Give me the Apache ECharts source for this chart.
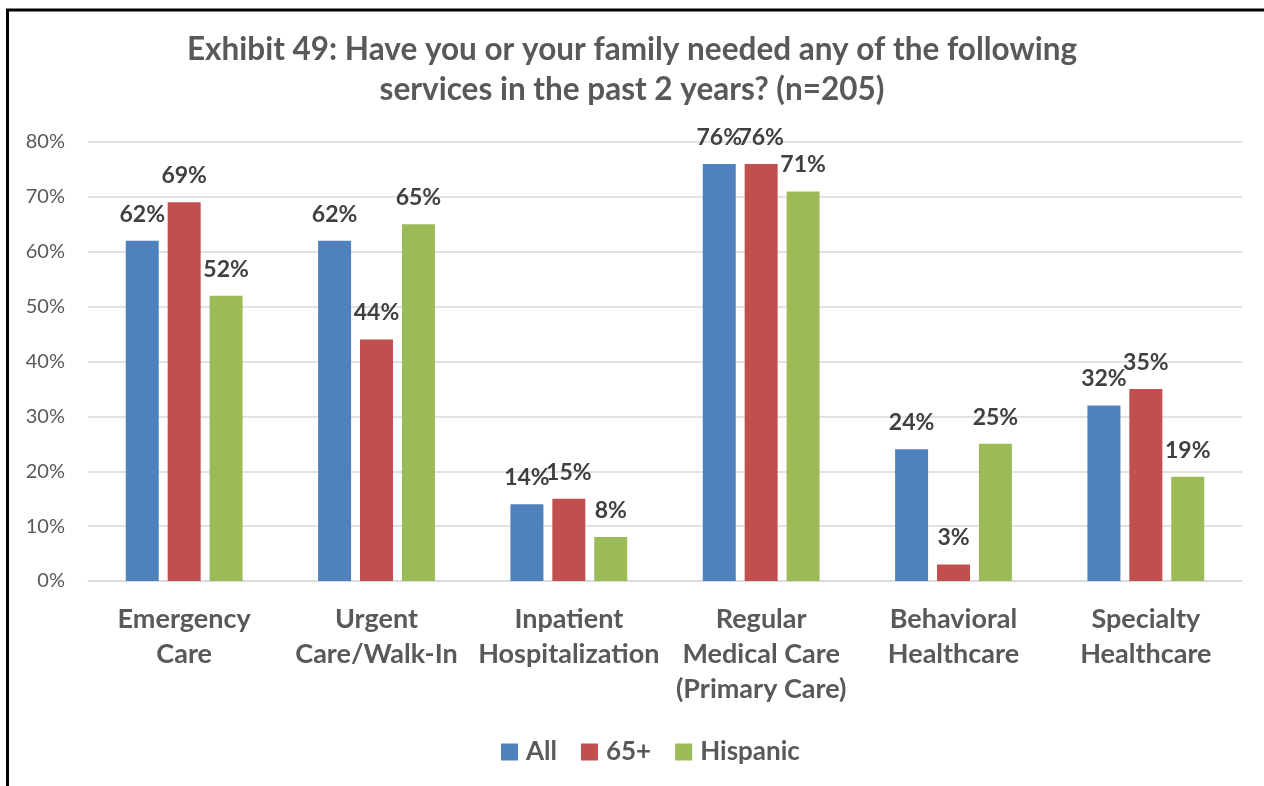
<!DOCTYPE html>
<html><head><meta charset="utf-8">
<script src="https://cdn.jsdelivr.net/npm/echarts@6/dist/echarts.min.js"></script>
<style>html,body{margin:0;padding:0;background:#fff;}#c{width:1264px;height:786px;}</style>
</head><body><div id="c"></div>
<script>
const categories = ['Emergency\nCare','Urgent\nCare/Walk-In','Inpatient\nHospitalization','Regular\nMedical Care\n(Primary Care)','Behavioral\nHealthcare','Specialty\nHealthcare'];
const seriesNames = ['All','65+','Hispanic'];
const allValues = [62,62,14,76,24,32];
const seniorValues = [69,44,15,76,3,35];
const hispanicValues = [52,65,8,71,25,19];
const colors = ['#4F81BD','#C0504D','#9BBB59'];
const yTicks = [0,10,20,30,40,50,60,70,80];

const font = 'Lato, "Open Sans", sans-serif';
const chart = echarts.init(document.getElementById('c'));
const mk = (name, data, color) => ({
  name, type:'bar', data, barWidth:33, barGap:'27%',
  itemStyle:{color},
  label:{show:true, position:'top', formatter:'{c}%', fontFamily:font, fontWeight:'bold', fontSize:23, color:'#404040', distance:15}
});
chart.setOption({
  animation:false,
  title:{text:'Exhibit 49: Have you or your family needed any of the following\nservices in the past 2 years? (n=205)',
    left:'center', top:25,
    textStyle:{fontFamily:font, fontWeight:'bold', fontSize:31.5, color:'#595959', lineHeight:40}},
  legend:{bottom:16, left:496, itemWidth:17, itemHeight:17, itemGap:24, icon:'rect',
    textStyle:{fontFamily:font, fontWeight:'bold', fontSize:26, color:'#595959', padding:[0,0,0,3]}, data:seriesNames},
  grid:{left:88, right:22, top:142, bottom:205, containLabel:false},
  xAxis:{type:'category', data:categories,
    axisLine:{show:true, lineStyle:{color:'#D9D9D9', width:1.5}}, axisTick:{show:false},
    axisLabel:{fontFamily:font, fontWeight:'bold', fontSize:27, color:'#595959', lineHeight:35, margin:21, interval:0}},
  yAxis:{type:'value', min:0, max:80, interval:10,
    axisLine:{show:false}, axisTick:{show:false},
    axisLabel:{formatter:v=>v+'%', fontFamily:font, fontSize:20, color:'#595959', margin:23},
    splitLine:{lineStyle:{color:'#D9D9D9', width:1.5}}},
  series:[mk(seriesNames[0], allValues, colors[0]), mk(seriesNames[1], seniorValues, colors[1]), mk(seriesNames[2], hispanicValues, colors[2])],
  graphic:[{type:'rect', shape:{x:7.5, y:10, width:1300, height:820}, style:{fill:'none', stroke:'#000', lineWidth:3}, silent:true}]
});
</script></body></html>
